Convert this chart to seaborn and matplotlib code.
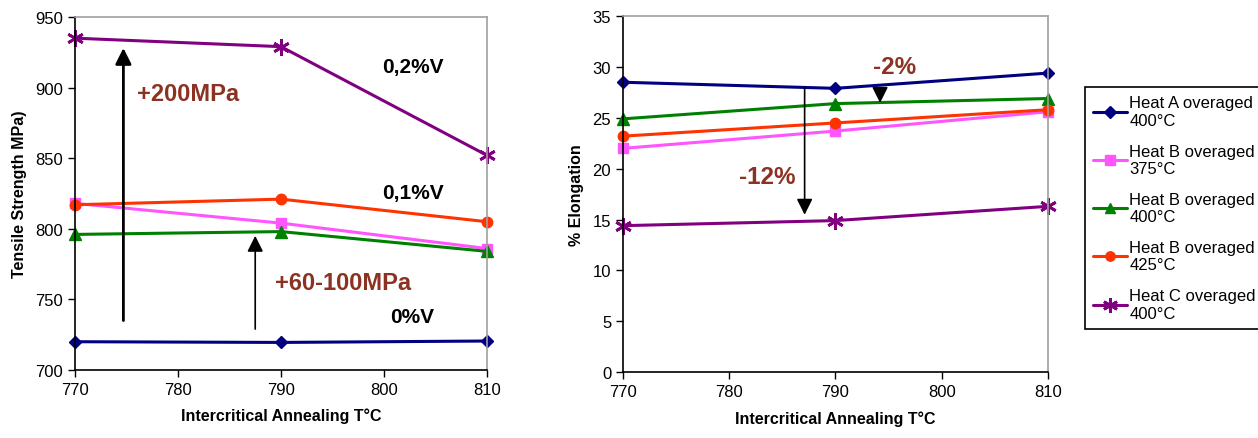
import pandas as pd
import matplotlib
matplotlib.use('Agg')
import matplotlib.pyplot as plt
import seaborn as sns

# Data
temps = [770, 790, 810]
series_names = ['Heat A overaged\n400°C', 'Heat B overaged\n375°C', 'Heat B overaged\n400°C',
                'Heat B overaged\n425°C', 'Heat C overaged\n400°C']
tensile_a400 = [720, 719.5, 720.5]
tensile_b375 = [818, 804, 786]
tensile_b400 = [796, 798, 784]
tensile_b425 = [817, 821, 805]
tensile_c400 = [935, 929, 852]
elong_a400 = [28.5, 27.9, 29.4]
elong_b375 = [22.0, 23.7, 25.6]
elong_b400 = [24.9, 26.4, 26.9]
elong_b425 = [23.2, 24.5, 25.8]
elong_c400 = [14.4, 14.9, 16.3]

colors = ['#000080', '#FF55FF', '#008000', '#FF3300', '#800080']
markers = ['D', 's', '^', 'o', (6, 2, 0)]
msizes = [6.5, 7.5, 8, 7.5, 12]
brown = '#8B3222'

sns.set_style('ticks')
plt.rcParams['font.family'] = ['Liberation Sans', 'DejaVu Sans']
plt.rcParams['text.color'] = 'black'
plt.rcParams['axes.labelcolor'] = 'black'
plt.rcParams['xtick.color'] = 'black'
plt.rcParams['ytick.color'] = 'black'

fig = plt.figure(figsize=(12.58, 4.39), dpi=100)
ax1 = fig.add_axes([0.0596, 0.155, 0.3275, 0.804])
ax2 = fig.add_axes([0.4952, 0.150, 0.3378, 0.811])

tensile = [tensile_a400, tensile_b375, tensile_b400, tensile_b425, tensile_c400]
elong = [elong_a400, elong_b375, elong_b400, elong_b425, elong_c400]

for ax, data in [(ax1, tensile), (ax2, elong)]:
    for name, vals, c, m, ms in zip(series_names, data, colors, markers, msizes):
        df = pd.DataFrame({'T': temps, 'v': vals})
        sns.lineplot(data=df, x='T', y='v', ax=ax, color=c, marker=m, markersize=ms,
                     markeredgecolor=c, markeredgewidth=2 if m == markers[4] else 1,
                     linewidth=2.2, label=name, legend=False)
    ax.set_xlim(770, 810)
    ax.set_xticks([770, 780, 790, 800, 810])
    ax.set_xlabel('Intercritical Annealing T°C', fontsize=11.5, fontweight='bold', labelpad=8)
    ax.tick_params(axis='both', direction='out', length=5, width=1, labelsize=12, color='black')
    for s in ['left', 'bottom']:
        ax.spines[s].set_color('black')
        ax.spines[s].set_linewidth(1.2)
    for s in ['top', 'right']:
        ax.spines[s].set_color('#A0A0A0')
        ax.spines[s].set_linewidth(1.2)
    for line in ax.lines:
        line.set_clip_on(False)

ax1.set_ylim(700, 950)
ax1.set_yticks(range(700, 951, 50))
ax1.set_ylabel('Tensile Strength MPa)', fontsize=11.5, fontweight='bold', labelpad=6)
ax2.set_ylim(0, 35)
ax2.set_yticks(range(0, 36, 5))
ax2.set_ylabel('% Elongation', fontsize=11.5, fontweight='bold', labelpad=6)

# annotations on the tensile plot
ax1.annotate('', xy=(774.7, 930), xytext=(774.7, 733),
             arrowprops=dict(arrowstyle='-|>', color='black', lw=2, mutation_scale=24))
ax1.annotate('', xy=(787.5, 797), xytext=(787.5, 727),
             arrowprops=dict(arrowstyle='-|>', color='black', lw=1.2, mutation_scale=24))
ax1.text(781, 896, '+200MPa', color=brown, fontsize=17, fontweight='bold', ha='center', va='center')
ax1.text(796, 762, '+60-100MPa', color=brown, fontsize=17, fontweight='bold', ha='center', va='center')
ax1.text(802.8, 915, '0,2%V', fontsize=15, fontweight='bold', ha='center', va='center')
ax1.text(802.8, 826, '0,1%V', fontsize=15, fontweight='bold', ha='center', va='center')
ax1.text(802.7, 738, '0%V', fontsize=15, fontweight='bold', ha='center', va='center')

# annotations on the elongation plot
ax2.annotate('', xy=(787.1, 15.2), xytext=(787.1, 28.3),
             arrowprops=dict(arrowstyle='-|>', color='black', lw=1.2, mutation_scale=24))
ax2.annotate('', xy=(794.2, 26.2), xytext=(794.2, 27.9),
             arrowprops=dict(arrowstyle='-|>', color='black', lw=1.2, mutation_scale=24))
ax2.text(795.6, 30.0, '-2%', color=brown, fontsize=17.5, fontweight='bold', ha='center', va='center')
ax2.text(783.6, 19.2, '-12%', color=brown, fontsize=17.5, fontweight='bold', ha='center', va='center')

handles, labels = ax2.get_legend_handles_labels()
leg = fig.legend(handles, labels, loc='upper left', bbox_to_anchor=(1085 / 1258, 1 - 88 / 439),
                 fontsize=12, frameon=True, fancybox=False, edgecolor='black', framealpha=1,
                 handlelength=2.0, handletextpad=0.15, labelspacing=0.95, borderpad=0.5,
                 borderaxespad=0)
leg.get_frame().set_linewidth(1.2)
for h in leg.legend_handles:
    h.set_markersize(h.get_markersize() * 0.9)

fig.savefig('out.png', dpi=100)
